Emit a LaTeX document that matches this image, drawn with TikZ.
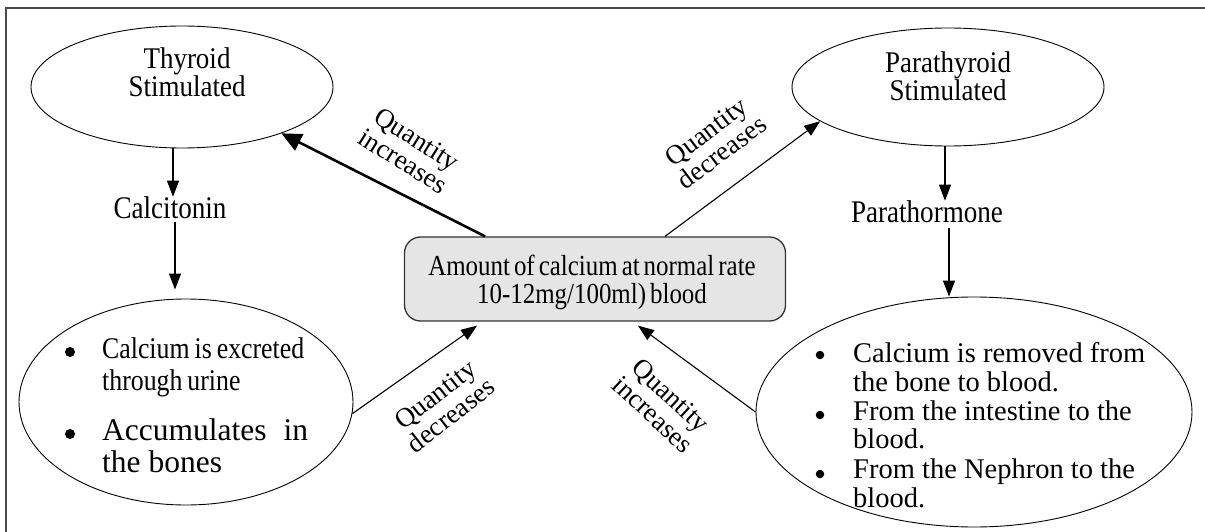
\documentclass[tikz,border=0pt]{standalone}
\usepackage{fontspec}
\setmainfont{Liberation Serif}
\newfontfamily\condA[FakeStretch=0.86]{Liberation Serif}
\newfontfamily\condT[FakeStretch=0.9]{Liberation Serif}
\usetikzlibrary{shapes.geometric,arrows.meta,calc}
\begin{document}
\begin{tikzpicture}[x=1pt,y=-1pt,
  ell/.style={draw,ellipse,line width=0.9pt,inner sep=0pt},
  head/.style={font=\condT\fontsize{30}{28}\selectfont,align=center,inner sep=0pt},
  horm/.style={font=\condA\fontsize{31.5}{30}\selectfont,inner sep=0pt},
  lab/.style={font=\fontsize{27}{26}\selectfont,align=center,inner sep=0pt},
  line/.style={font=\fontsize{28.5}{29}\selectfont,inner sep=0pt,anchor=base west},
  bul/.style={circle,fill=black,inner sep=0pt,minimum size=8.5pt},
  conn/.style={line width=1.1pt,-{Triangle[length=16pt,width=12pt]}},
  thickconn/.style={line width=2.6pt,-{Triangle[length=20pt,width=18pt]}},
  cbox/.style={draw=black!80,line width=1.3pt,fill=black!10,rounded corners=16pt,inner sep=0pt}
]
\useasboundingbox (0,0) rectangle (1205,532);
% frame
\draw[black!70,line width=2pt] (6,532) -- (6,8) -- (1205,8);

% top ellipses
\node[ell,minimum width=302pt,minimum height=122pt] (th) at (182,87) {};
\node[head] (tht) at (187,72) {Thyroid\\Stimulated};
\node[ell,minimum width=312pt,minimum height=118pt] (pt) at (948,87) {};
\node[head] (ptt) at (948,76) {Parathyroid\\Stimulated};

% hormones
\node[horm] (calc) at (170,208) {Calcitonin};
\node[horm] (ph) at (927,212) {Parathormone};

% centre box
\node[cbox,minimum width=381pt,minimum height=84pt] (box) at (595,279) {};
\node[font=\condA\fontsize{29}{28}\selectfont,align=center,inner sep=0pt] (boxt) at (592,282)
  {\spaceskip=4pt Amount of calcium at normal rate\\\spaceskip=4pt 10-12mg/100ml) blood};

% bottom-left ellipse
\node[ell,minimum width=334pt,minimum height=206pt] (bl) at (186,402) {};
\node[bul,minimum size=10pt] (blb1) at (70,352) {};
\node[bul,minimum size=10pt] (blb2) at (70,434) {};
\node[line,font=\condA\fontsize{30}{30}\selectfont] (bll1) at (102,358) {\spaceskip=5pt Calcium is excreted};
\node[line,font=\condA\fontsize{30}{30}\selectfont] (bll2) at (102,390) {\spaceskip=5pt through urine};
\node[line,font=\fontsize{31.5}{30}\selectfont] (bll3) at (102,440) {\makebox[206pt][s]{Accumulates in}};
\node[line,font=\fontsize{31.5}{30}\selectfont] (bll4) at (102,472) {the bones};

% bottom-right ellipse
\node[ell,minimum width=436pt,minimum height=230pt] (br) at (974,412) {};
\node[bul] (brb1) at (820,355) {};
\node[bul] (brb2) at (820,415) {};
\node[bul] (brb3) at (820,474) {};
\node[line] (brl1) at (853,362) {Calcium is removed from};
\node[line] (brl2) at (853,391) {the bone to blood.};
\node[line] (brl3) at (853,420) {From the intestine to the};
\node[line] (brl4) at (853,448) {blood.};
\node[line] (brl5) at (853,478) {From the Nephron to the};
\node[line] (brl6) at (853,507) {blood.};

% vertical arrows
\draw[conn] ([xshift=-9pt]th.south) -- ([xshift=3pt]calc.north);
\draw[conn] ([xshift=5pt,yshift=-3pt]calc.south) -- ([xshift=5pt,yshift=9pt]calc.south |- bl.north);
\draw[conn] ([xshift=-3pt]pt.south) -- ([xshift=18pt]ph.north);
\draw[conn] ([xshift=22pt,yshift=-5pt]ph.south) -- ([xshift=22pt]ph.south |- br.north);

% diagonal arrows
\draw[thickconn] ([xshift=-110pt]box.north) -- (th.-25);
\draw[conn] ([xshift=70pt]box.north) -- (pt.195);
\draw[conn] (bl.-4) -- ([xshift=-118pt,yshift=-4pt]box.south);
\draw[conn] (br.west) -- ([xshift=43pt,yshift=-4pt]box.south);

% labels
\node[lab,rotate=-32] (l1) at (410,150) {Quantity\\increases};
\node[lab,rotate=37] (l2) at (714,142) {Quantity\\decreases};
\node[lab,rotate=38] (l3) at (443,405) {Quantity\\decreases};
\node[lab,rotate=-43] (l4) at (662,405) {Quantity\\increases};
\end{tikzpicture}
\end{document}
